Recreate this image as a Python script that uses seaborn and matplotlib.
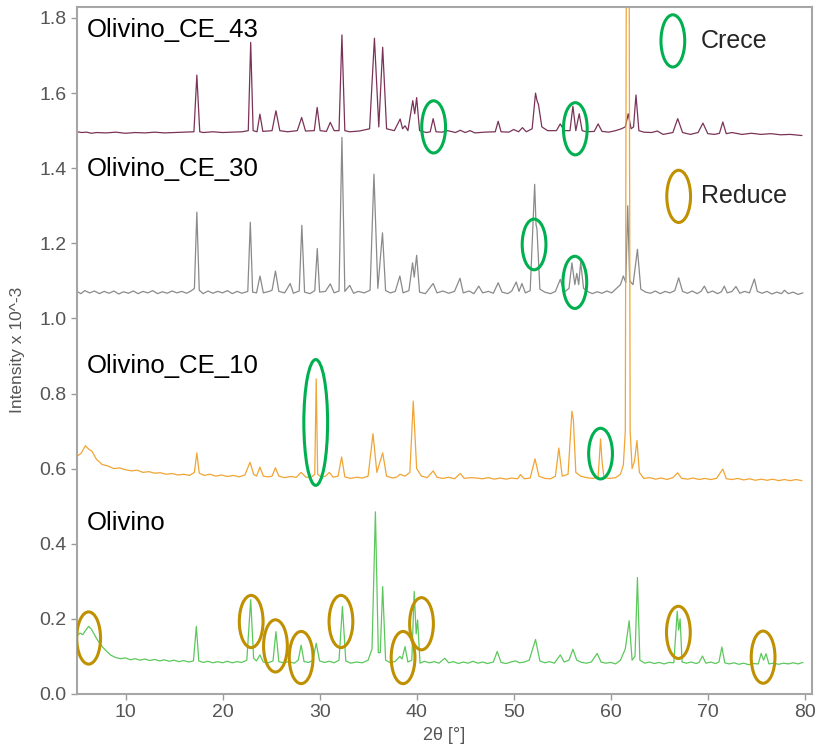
import pandas as pd
import matplotlib
matplotlib.use('Agg')
import matplotlib.pyplot as plt
from matplotlib.patches import Ellipse
from matplotlib.ticker import FormatStrFormatter
import seaborn as sns

# --- data (2theta, intensity x 10^-3) ---
ce43 = [(5, 1.497), (5.5, 1.495), (6, 1.496), (6.5, 1.493), (7, 1.495), (8, 1.494), (9, 1.496), (10, 1.493),
        (11, 1.495), (12, 1.494), (13, 1.496), (14, 1.494), (15, 1.495), (16, 1.496), (17.05, 1.497),
        (17.35, 1.648), (17.65, 1.497), (18, 1.495), (19, 1.497), (20, 1.495), (21, 1.496), (22, 1.497),
        (22.65, 1.5), (22.9, 1.735), (23.15, 1.5), (23.55, 1.497), (23.85, 1.544), (24.15, 1.498), (25.1, 1.5),
        (25.5, 1.553), (25.9, 1.5), (26.7, 1.497), (27.7, 1.5), (28.15, 1.535), (28.55, 1.499), (29.45, 1.5),
        (29.75, 1.562), (30.05, 1.5), (30.7, 1.498), (31.1, 1.522), (31.5, 1.5), (32.0, 1.5), (32.3, 1.755),
        (32.6, 1.5), (33.1, 1.497), (34.1, 1.499), (35.15, 1.505), (35.65, 1.746), (36.1, 1.51), (36.5, 1.722),
        (36.9, 1.505), (37.7, 1.5), (38.3, 1.531), (38.55, 1.505), (38.8, 1.513), (39.1, 1.5), (39.6, 1.58),
        (39.8, 1.545), (40.0, 1.588), (40.3, 1.5), (41.0, 1.495), (41.4, 1.497), (41.7, 1.532), (42.0, 1.497),
        (42.6, 1.496), (43.2, 1.5), (44, 1.495), (44.5, 1.501), (45, 1.495), (45.5, 1.5), (46, 1.494),
        (47, 1.496), (48.1, 1.497), (48.4, 1.525), (48.7, 1.497), (49.5, 1.496), (50.0, 1.503), (50.5, 1.497),
        (50.9, 1.508), (51.3, 1.497), (51.9, 1.505), (52.25, 1.60), (52.4, 1.58), (52.55, 1.57), (52.9, 1.51),
        (53.5, 1.5), (54.4, 1.5), (54.8, 1.518), (55.2, 1.5), (55.8, 1.5), (56.1, 1.565), (56.4, 1.5),
        (56.75, 1.545), (57.05, 1.5), (57.5, 1.497), (58.3, 1.498), (58.7, 1.518), (59.1, 1.498), (59.8, 1.496),
        (60.5, 1.5), (61.1, 1.505), (61.5, 1.51), (61.8, 1.545), (62.1, 1.505), (62.35, 1.51), (62.6, 1.595),
        (62.9, 1.5), (63.4, 1.496), (64.2, 1.495), (64.8, 1.499), (65.4, 1.49), (66.4, 1.495), (66.9, 1.532),
        (67.4, 1.495), (68.2, 1.49), (69.0, 1.495), (69.5, 1.52), (70.0, 1.492), (70.7, 1.49), (71.2, 1.493),
        (71.55, 1.523), (71.9, 1.492), (72.5, 1.495), (73.5, 1.49), (74.5, 1.493), (75.5, 1.49), (76.5, 1.492),
        (77.5, 1.489), (78.5, 1.49), (79.7, 1.487)]

ce30 = [(5, 1.072), (5.4, 1.066), (5.8, 1.074), (6.3, 1.068), (6.8, 1.073), (7.3, 1.066), (7.8, 1.072),
        (8.3, 1.067), (8.8, 1.073), (9.3, 1.065), (9.8, 1.071), (10.3, 1.067), (10.8, 1.073), (11.3, 1.066),
        (11.8, 1.072), (12.3, 1.068), (12.8, 1.074), (13.3, 1.066), (13.8, 1.071), (14.3, 1.067), (14.8, 1.073),
        (15.3, 1.068), (15.8, 1.072), (16.3, 1.067), (16.8, 1.074), (17.1, 1.08), (17.35, 1.283), (17.6, 1.075),
        (18.0, 1.066), (18.5, 1.073), (19.0, 1.067), (19.5, 1.072), (20.0, 1.068), (20.5, 1.074), (21.0, 1.066),
        (21.5, 1.072), (22.0, 1.067), (22.6, 1.072), (22.86, 1.256), (23.1, 1.07), (23.5, 1.068),
        (23.86, 1.113), (24.2, 1.068), (24.8, 1.072), (25.1, 1.075), (25.45, 1.126), (25.8, 1.072),
        (26.4, 1.068), (26.97, 1.093), (27.3, 1.067), (27.9, 1.073), (28.17, 1.248), (28.45, 1.07),
        (29.0, 1.066), (29.5, 1.074), (29.76, 1.186), (30.0, 1.07), (30.6, 1.072), (31.1, 1.092),
        (31.5, 1.068), (32.0, 1.073), (32.3, 1.482), (32.6, 1.072), (33.1, 1.088), (33.5, 1.067),
        (34.0, 1.072), (34.6, 1.068), (35.2, 1.075), (35.6, 1.384), (36.0, 1.08), (36.48, 1.228),
        (36.8, 1.074), (37.3, 1.068), (37.8, 1.072), (38.27, 1.113), (38.6, 1.068), (39.2, 1.074),
        (39.58, 1.148), (39.75, 1.11), (40.0, 1.168), (40.3, 1.07), (40.9, 1.066), (41.7, 1.093), (42.1, 1.068),
        (42.7, 1.073), (43.3, 1.067), (43.9, 1.072), (44.47, 1.107), (44.8, 1.068), (45.4, 1.073),
        (45.9, 1.066), (46.4, 1.086), (46.8, 1.068), (47.4, 1.072), (47.9, 1.067), (48.4, 1.095), (48.8, 1.07),
        (49.4, 1.066), (49.8, 1.073), (50.26, 1.097), (50.55, 1.072), (50.85, 1.093), (51.2, 1.068),
        (51.7, 1.074), (52.16, 1.357), (52.3, 1.25), (52.4, 1.237), (52.7, 1.078), (53.2, 1.07), (53.8, 1.066),
        (54.3, 1.072), (54.8, 1.104), (55.2, 1.07), (55.7, 1.08), (56.0, 1.148), (56.3, 1.09), (56.5, 1.12),
        (56.7, 1.09), (56.9, 1.15), (57.2, 1.08), (57.6, 1.072), (58.1, 1.066), (58.6, 1.071), (59.1, 1.067),
        (59.6, 1.073), (60.1, 1.068), (60.6, 1.08), (61.0, 1.09), (61.3, 1.113), (61.55, 1.095), (61.75, 1.30),
        (61.95, 1.1), (62.3, 1.09), (62.75, 1.184), (63.1, 1.078), (63.6, 1.07), (64.1, 1.067), (64.6, 1.073),
        (65.1, 1.066), (65.6, 1.072), (66.1, 1.068), (66.6, 1.074), (67.0, 1.108), (67.4, 1.072), (67.9, 1.067),
        (68.4, 1.073), (68.9, 1.066), (69.3, 1.072), (69.65, 1.086), (70.0, 1.068), (70.5, 1.073), (71.0, 1.066),
        (71.4, 1.071), (71.7, 1.086), (72.0, 1.068), (72.5, 1.072), (72.9, 1.085), (73.3, 1.067), (73.8, 1.072),
        (74.3, 1.068), (74.8, 1.105), (75.1, 1.072), (75.6, 1.067), (76.1, 1.072), (76.6, 1.065), (77.1, 1.07),
        (77.6, 1.066), (77.9, 1.075), (78.3, 1.066), (78.8, 1.07), (79.3, 1.064), (79.8, 1.068)]

ce10 = [(5, 0.633), (5.4, 0.64), (5.87, 0.661), (6.2, 0.652), (6.55, 0.646), (7.0, 0.625), (7.6, 0.611),
        (8.2, 0.607), (8.8, 0.60), (9.4, 0.602), (10.0, 0.597), (10.6, 0.594), (11.2, 0.596), (11.8, 0.59),
        (12.4, 0.592), (13.0, 0.588), (13.6, 0.589), (14.2, 0.585), (14.8, 0.587), (15.4, 0.583), (16.0, 0.585),
        (16.6, 0.582), (17.1, 0.59), (17.35, 0.642), (17.6, 0.588), (18.1, 0.582), (18.7, 0.585), (19.3, 0.58),
        (19.9, 0.583), (20.5, 0.579), (21.1, 0.582), (21.7, 0.578), (22.3, 0.583), (22.83, 0.617), (23.2, 0.585),
        (23.5, 0.58), (23.85, 0.604), (24.2, 0.58), (24.7, 0.578), (25.1, 0.58), (25.45, 0.602), (25.8, 0.58),
        (26.4, 0.576), (27.0, 0.579), (27.6, 0.577), (28.1, 0.59), (28.6, 0.577), (29.2, 0.578), (29.5, 0.585),
        (29.65, 0.839), (29.8, 0.585), (30.2, 0.577), (30.6, 0.58), (31.0, 0.59), (31.4, 0.577), (31.9, 0.58),
        (32.27, 0.631), (32.6, 0.578), (33.2, 0.574), (33.8, 0.577), (34.4, 0.575), (35.0, 0.58), (35.5, 0.693),
        (35.9, 0.59), (36.5, 0.642), (36.9, 0.58), (37.5, 0.575), (38.0, 0.578), (38.27, 0.585), (38.8, 0.58),
        (39.3, 0.59), (39.65, 0.78), (40.0, 0.6), (40.5, 0.58), (41.1, 0.576), (41.7, 0.594), (42.1, 0.577),
        (42.7, 0.574), (43.3, 0.577), (43.9, 0.573), (44.5, 0.587), (44.9, 0.574), (45.5, 0.576), (46.2, 0.575),
        (46.8, 0.573), (47.4, 0.576), (48.0, 0.572), (48.6, 0.575), (49.2, 0.572), (49.8, 0.575), (50.4, 0.573),
        (50.7, 0.584), (51.1, 0.573), (51.7, 0.575), (52.2, 0.626), (52.6, 0.58), (53.2, 0.574), (53.8, 0.573),
        (54.3, 0.58), (54.65, 0.655), (55.0, 0.58), (55.6, 0.585), (56.0, 0.753), (56.15, 0.73), (56.4, 0.59),
        (56.9, 0.58), (57.5, 0.576), (58.2, 0.574), (58.7, 0.578), (58.95, 0.679), (59.1, 0.62), (59.3, 0.576),
        (59.9, 0.574), (60.5, 0.576), (61.0, 0.585), (61.3, 0.61), (61.5, 0.7), (61.66, 2.6), (61.84, 2.6),
        (62.0, 0.7), (62.2, 0.6), (62.45, 0.62), (62.7, 0.675), (62.95, 0.59), (63.4, 0.574), (64.0, 0.576),
        (64.6, 0.572), (65.2, 0.575), (65.8, 0.571), (66.4, 0.576), (66.9, 0.589), (67.3, 0.574), (67.9, 0.572),
        (68.5, 0.575), (69.1, 0.571), (69.7, 0.574), (70.3, 0.571), (70.9, 0.574), (71.55, 0.599), (71.9, 0.573),
        (72.5, 0.571), (73.1, 0.574), (73.7, 0.57), (74.3, 0.573), (74.9, 0.569), (75.5, 0.572), (76.1, 0.569),
        (76.7, 0.572), (77.3, 0.568), (77.9, 0.571), (78.5, 0.568), (79.1, 0.571), (79.7, 0.568)]

olivino = [(5, 0.155), (5.3, 0.162), (5.6, 0.158), (5.9, 0.17), (6.2, 0.18), (6.5, 0.172), (6.9, 0.153),
           (7.2, 0.14), (7.6, 0.126), (8.0, 0.115), (8.5, 0.103), (9.0, 0.097), (9.5, 0.094), (10.0, 0.096),
           (10.5, 0.091), (11.0, 0.094), (11.5, 0.09), (12.0, 0.093), (12.5, 0.089), (13.0, 0.092),
           (13.5, 0.088), (14.0, 0.091), (14.5, 0.087), (15.0, 0.09), (15.5, 0.086), (16.0, 0.089),
           (16.5, 0.085), (17.0, 0.088), (17.3, 0.18), (17.55, 0.088), (18.0, 0.084), (18.5, 0.087),
           (19.0, 0.083), (19.5, 0.086), (20.0, 0.083), (20.5, 0.087), (21.0, 0.083), (21.5, 0.086),
           (22.0, 0.084), (22.5, 0.09), (22.9, 0.251), (23.2, 0.095), (23.5, 0.088), (23.85, 0.104),
           (24.2, 0.085), (24.7, 0.083), (25.2, 0.088), (25.5, 0.166), (25.8, 0.086), (26.3, 0.083),
           (26.8, 0.086), (27.4, 0.082), (27.8, 0.09), (28.1, 0.13), (28.4, 0.086), (28.9, 0.084), (29.3, 0.09),
           (29.65, 0.135), (30.0, 0.088), (30.5, 0.084), (31.0, 0.087), (31.5, 0.083), (32.0, 0.09),
           (32.35, 0.233), (32.7, 0.088), (33.2, 0.082), (33.8, 0.085), (34.4, 0.083), (35.0, 0.09),
           (35.4, 0.12), (35.75, 0.485), (36.05, 0.11), (36.25, 0.11), (36.5, 0.286), (36.8, 0.09),
           (37.3, 0.083), (37.8, 0.087), (38.27, 0.10), (38.5, 0.093), (38.8, 0.126), (39.1, 0.085),
           (39.5, 0.09), (39.75, 0.273), (39.95, 0.16), (40.1, 0.197), (40.35, 0.082), (40.8, 0.087),
           (41.3, 0.083), (41.8, 0.086), (42.3, 0.082), (42.9, 0.095), (43.3, 0.083), (43.8, 0.086),
           (44.3, 0.081), (44.8, 0.085), (45.3, 0.082), (45.8, 0.087), (46.3, 0.082), (46.8, 0.085),
           (47.3, 0.081), (47.9, 0.085), (48.3, 0.113), (48.7, 0.084), (49.2, 0.081), (49.7, 0.085),
           (50.2, 0.088), (50.6, 0.083), (51.1, 0.085), (51.6, 0.09), (52.25, 0.145), (52.7, 0.088),
           (53.2, 0.083), (53.7, 0.086), (54.2, 0.082), (54.8, 0.104), (55.2, 0.085), (55.7, 0.09),
           (56.1, 0.119), (56.5, 0.09), (57.0, 0.084), (57.5, 0.082), (58.0, 0.085), (58.6, 0.108),
           (59.0, 0.085), (59.5, 0.082), (60.0, 0.084), (60.5, 0.08), (61.0, 0.09), (61.5, 0.12), (61.9, 0.195),
           (62.2, 0.09), (62.5, 0.1), (62.75, 0.31), (63.0, 0.09), (63.5, 0.082), (64.0, 0.085), (64.5, 0.081),
           (65.0, 0.084), (65.5, 0.08), (66.0, 0.084), (66.5, 0.083), (66.85, 0.22), (67.0, 0.17),
           (67.15, 0.2), (67.35, 0.085), (67.8, 0.082), (68.3, 0.085), (68.8, 0.081), (69.1, 0.084),
           (69.45, 0.101), (69.8, 0.082), (70.3, 0.085), (70.8, 0.081), (71.15, 0.085), (71.45, 0.125),
           (71.75, 0.083), (72.2, 0.08), (72.7, 0.083), (73.2, 0.079), (73.7, 0.082), (74.2, 0.078),
           (74.7, 0.081), (75.2, 0.08), (75.5, 0.108), (75.75, 0.09), (76.0, 0.107), (76.3, 0.08),
           (76.8, 0.082), (77.3, 0.079), (77.8, 0.082), (78.3, 0.08), (78.8, 0.083), (79.3, 0.08), (79.8, 0.084)]

sample_names = ['Olivino_CE_43', 'Olivino_CE_30', 'Olivino', 'Olivino_CE_10']
sample_data = [ce43, ce30, olivino, ce10]
sample_colors = ['#7a3358', '#8a8a8a', '#5cc85c', '#f0a535']
# label position (2theta, intensity) for each sample name
label_pos = {'Olivino_CE_43': (6.0, 1.768), 'Olivino_CE_30': (6.0, 1.397),
             'Olivino_CE_10': (6.0, 0.872), 'Olivino': (6.0, 0.456)}

# highlighted peaks: (2theta, intensity, height)
crece_marks = [(41.75, 1.51, 0.139), (56.35, 1.505, 0.139), (52.1, 1.197, 0.135),
               (56.3, 1.096, 0.139), (29.6, 0.723, 0.335), (58.95, 0.64, 0.135)]
reduce_marks = [(6.2, 0.149, 0.139), (22.95, 0.193, 0.139), (25.45, 0.128, 0.139),
                (28.1, 0.097, 0.139), (32.2, 0.193, 0.139), (38.6, 0.097, 0.139),
                (40.5, 0.187, 0.139), (66.97, 0.164, 0.139), (75.7, 0.098, 0.139)]
green = '#00b050'
gold = '#bf9000'

rows = []
for name, pts in zip(sample_names, sample_data):
    for x, y in pts:
        rows.append({'sample': name, 'two_theta': x, 'intensity': y})
df = pd.DataFrame(rows)

sns.set_style('ticks')
plt.rcParams['font.family'] = ['Liberation Sans', 'DejaVu Sans']

fig = plt.figure(figsize=(8.19, 7.47), dpi=100)
ax = fig.add_axes([0.094, 0.071, 0.897, 0.920])
sns.lineplot(data=df, x='two_theta', y='intensity', hue='sample', hue_order=sample_names,
             palette=dict(zip(sample_names, sample_colors)), estimator=None, sort=False,
             linewidth=0.9, legend=False, ax=ax)

for name, (x, y) in label_pos.items():
    ax.text(x, y, name, fontsize=18.5, ha='left', va='center', color='black')

for x, y, h in crece_marks:
    ax.add_patch(Ellipse((x, y), 2.45, h, fill=False, edgecolor=green, linewidth=2.2, zorder=5))
for x, y, h in reduce_marks:
    ax.add_patch(Ellipse((x, y), 2.45, h, fill=False, edgecolor=gold, linewidth=2.2, zorder=5))

# legend-like key
ax.add_patch(Ellipse((66.4, 1.739), 2.45, 0.139, fill=False, edgecolor=green, linewidth=2.2))
ax.text(69.3, 1.739, 'Crece', fontsize=18, ha='left', va='center')
ax.add_patch(Ellipse((67.0, 1.325), 2.45, 0.139, fill=False, edgecolor=gold, linewidth=2.2))
ax.text(69.3, 1.325, 'Reduce', fontsize=18, ha='left', va='center')

ax.set_xlim(5, 80.7)
ax.set_ylim(0, 1.83)
ax.set_xticks([10, 20, 30, 40, 50, 60, 70, 80])
ax.set_yticks([0.0, 0.2, 0.4, 0.6, 0.8, 1.0, 1.2, 1.4, 1.6, 1.8])
ax.yaxis.set_major_formatter(FormatStrFormatter('%.1f'))
ax.tick_params(axis='both', direction='out', length=4, width=1, color='#9a9a9a',
               labelcolor='#555555', labelsize=14)
for side in ['left', 'right', 'top', 'bottom']:
    ax.spines[side].set_color('#a6a6a6')
    ax.spines[side].set_linewidth(1.5)
ax.set_xlabel('2θ [°]', fontsize=13, color='#555555', labelpad=4)
ax.set_ylabel('Intensity x 10^-3', fontsize=12.5, color='#555555', labelpad=10)

fig.savefig('out.png', dpi=100)
